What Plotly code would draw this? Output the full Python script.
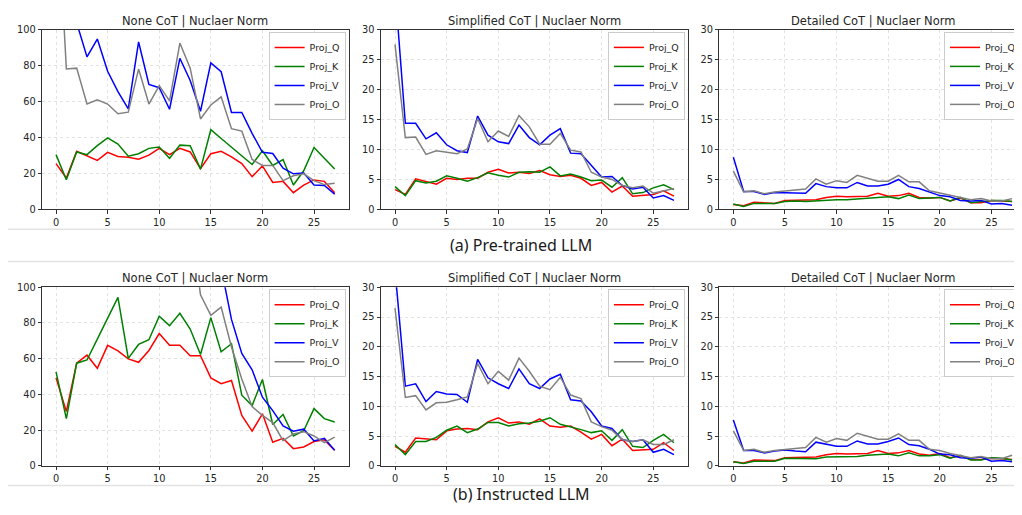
import plotly.graph_objects as go

layers = list(range(28))
series_names = ["Proj_Q", "Proj_K", "Proj_V", "Proj_O"]
series_colors = ["#ff0000", "#008000", "#0000ff", "#808080"]
panel_titles = ["None CoT | Nuclaer Norm", "Simplified CoT | Nuclaer Norm", "Detailed CoT | Nuclaer Norm"]
captions = ["(a) Pre-trained LLM", "(b) Instructed LLM"]

# ---- (a) Pre-trained LLM ----
pt_none_q = [25.5, 17.5, 32.4, 30, 27.3, 31.8, 29.5, 29, 28, 30.2, 34, 30.5, 34, 32, 22.7, 31, 32.4, 29.3, 25.5, 18.2, 24.2, 15, 15.6, 9.3, 13.5, 16.4, 15.6, 9.3]
pt_none_k = [30.5, 16.5, 32, 30.5, 35.5, 39.8, 36.4, 29.6, 31, 34, 34.7, 28.5, 35.8, 35.5, 22.4, 44.4, 39.5, 34.7, 30, 25, 32.7, 24.5, 27.8, 13.6, 21.5, 34.5, 28.5, 22.5]
pt_none_v = [300, 180, 104, 85, 94.9, 77, 65.6, 56, 93.3, 69.6, 67.8, 55.8, 84.2, 71.8, 54.7, 81.6, 76.7, 54, 54, 42.4, 31.8, 31.1, 22.9, 19.8, 20.2, 13.6, 13.3, 8.5]
pt_none_o = [185, 78.2, 78.7, 58.7, 61, 58.7, 53.3, 54.2, 78.2, 58.7, 69, 60.5, 92.7, 78.7, 50.4, 58.2, 62.7, 45, 43.6, 27.8, 24.5, 24.5, 16, 18.7, 19.8, 16, 13.8, 14.5]

pt_simp_q = [3.3, 2.5, 5.1, 4.6, 4.2, 5.2, 5.0, 5.2, 5.2, 6.2, 6.7, 6.1, 6.2, 6.0, 6.5, 5.8, 5.5, 5.7, 5.2, 4.0, 4.5, 2.9, 3.9, 2.2, 2.4, 2.5, 3.1, 2.2]
pt_simp_k = [3.8, 2.3, 4.8, 4.4, 4.7, 5.6, 5.2, 4.7, 5.3, 6.1, 5.7, 5.4, 6.2, 6.3, 6.2, 7.1, 5.6, 5.9, 5.4, 4.8, 4.9, 3.7, 5.3, 2.6, 2.8, 3.6, 4.1, 3.3]
pt_simp_v = [37, 14.4, 14.4, 11.8, 12.8, 10.8, 9.8, 9.5, 15.6, 12.4, 11.3, 11.0, 14.1, 12.0, 10.8, 12.4, 13.5, 9.4, 9.3, 7.4, 5.4, 5.5, 4.0, 3.4, 3.7, 1.9, 2.3, 1.5]
pt_simp_o = [27.6, 12.0, 12.1, 9.2, 9.8, 9.5, 9.3, 10.1, 15.2, 11.3, 13.1, 12.2, 15.7, 13.8, 10.9, 10.9, 12.7, 9.9, 9.6, 6.2, 5.4, 5.0, 4.0, 3.6, 3.9, 2.7, 3.1, 3.5]

pt_det_q = [0.8, 0.6, 1.2, 1.1, 1.0, 1.5, 1.5, 1.6, 1.6, 2.0, 2.2, 2.1, 2.2, 2.2, 2.7, 2.2, 2.3, 2.7, 2.0, 1.9, 2.0, 1.4, 1.9, 1.1, 1.1, 1.5, 1.4, 1.3]
pt_det_k = [0.9, 0.5, 1.0, 1.0, 1.0, 1.3, 1.4, 1.3, 1.4, 1.6, 1.6, 1.6, 1.7, 1.8, 2.0, 2.1, 1.8, 2.4, 1.8, 1.9, 2.0, 1.4, 2.0, 1.1, 1.3, 1.5, 1.5, 1.3]
pt_det_v = [8.7, 3.0, 3.0, 2.5, 2.8, 2.8, 2.8, 2.7, 4.3, 3.8, 3.6, 3.6, 4.5, 3.9, 3.9, 4.2, 5.0, 3.8, 3.5, 2.9, 2.3, 2.1, 1.5, 1.4, 1.5, 0.9, 1.0, 0.7]
pt_det_o = [6.4, 2.9, 3.1, 2.6, 2.9, 3.1, 3.2, 3.4, 5.1, 4.2, 4.8, 4.5, 5.7, 5.2, 4.7, 4.7, 5.7, 4.6, 4.6, 3.1, 2.7, 2.3, 2.0, 1.6, 1.8, 1.4, 1.4, 1.8]

# ---- (b) Instructed LLM ----
in_none_q = [49.3, 30.5, 57.5, 62, 54.7, 67.5, 64.4, 59.9, 58, 64.6, 74.1, 67.5, 67.5, 61.7, 61.7, 49.3, 46, 47.8, 28.3, 19.5, 29.2, 13.3, 15.5, 9.7, 10.6, 13.7, 14.6, 8.8]
in_none_k = [52.6, 26.5, 57.5, 59.3, 71, 83, 94.3, 60.2, 68, 70.6, 83.8, 78.5, 85.4, 76.6, 62.4, 83, 63.9, 68.4, 39.6, 33.8, 48.4, 23.2, 28.8, 16.8, 19.7, 32.1, 26.5, 24.6]
in_none_v = [420, 330, 350, 310, 290, 300, 280, 250, 260, 240, 230, 220, 210, 190, 170, 140, 110, 82, 63, 53.8, 38.5, 31, 22.4, 19.5, 20.6, 14, 15.5, 8.8]
in_none_o = [400, 300, 320, 290, 270, 280, 260, 240, 250, 230, 220, 210, 190, 138, 95.8, 84.3, 88.9, 66.6, 48.7, 33.2, 28.3, 24.3, 14.2, 17.9, 19.2, 16.8, 13.1, 16.1]

in_simp_q = [3.3, 2.3, 4.7, 4.5, 4.4, 5.9, 6.2, 6.3, 6.1, 7.4, 8.1, 7.2, 7.4, 7.0, 7.9, 6.7, 6.5, 6.7, 5.7, 4.5, 5.3, 3.4, 4.5, 2.6, 2.7, 2.8, 3.9, 2.6]
in_simp_k = [3.6, 1.9, 4.1, 4.1, 4.8, 6.0, 6.7, 5.6, 6.2, 7.3, 7.3, 6.7, 7.1, 7.2, 7.5, 8.1, 7.0, 6.6, 6.1, 5.6, 5.9, 4.3, 6.1, 3.3, 3.1, 4.3, 5.3, 3.9]
in_simp_v = [33, 13.4, 13.8, 10.8, 12.5, 12.1, 12.0, 10.7, 17.9, 14.8, 13.8, 13.0, 16.3, 13.8, 13.0, 14.6, 15.4, 11.1, 10.9, 9.1, 6.7, 6.3, 4.4, 4.1, 4.4, 2.3, 2.8, 1.9]
in_simp_o = [26.5, 11.5, 11.8, 9.4, 10.6, 10.7, 11.1, 11.6, 17.2, 13.8, 15.9, 14.4, 18.1, 15.9, 13.4, 12.8, 14.9, 11.9, 11.3, 7.4, 6.6, 6.0, 4.4, 4.1, 4.4, 3.6, 3.6, 4.4]

in_det_q = [0.7, 0.5, 1.0, 1.0, 0.9, 1.4, 1.4, 1.4, 1.5, 1.9, 2.1, 2.0, 2.0, 2.1, 2.6, 2.1, 2.2, 2.6, 2.0, 1.8, 2.1, 1.4, 1.7, 1.1, 1.1, 1.3, 1.2, 1.1]
in_det_k = [0.7, 0.4, 0.8, 0.8, 0.8, 1.3, 1.3, 1.2, 1.2, 1.5, 1.5, 1.5, 1.6, 1.8, 1.9, 2.0, 1.7, 2.2, 1.7, 1.7, 1.9, 1.3, 1.8, 1.0, 1.0, 1.4, 1.3, 1.0]
in_det_v = [7.7, 2.6, 2.6, 2.2, 2.5, 2.7, 2.5, 2.4, 4.0, 3.6, 3.3, 3.3, 4.2, 3.7, 3.7, 4.1, 4.7, 3.6, 3.4, 2.8, 2.0, 1.9, 1.4, 1.3, 1.5, 0.8, 0.9, 0.7]
in_det_o = [5.9, 2.6, 2.8, 2.3, 2.6, 2.8, 3.0, 3.1, 4.8, 4.0, 4.6, 4.3, 5.5, 5.0, 4.5, 4.5, 5.4, 4.3, 4.3, 2.8, 2.6, 2.1, 1.8, 1.4, 1.6, 1.2, 1.2, 1.8]

panels = [
    [pt_none_q, pt_none_k, pt_none_v, pt_none_o],
    [pt_simp_q, pt_simp_k, pt_simp_v, pt_simp_o],
    [pt_det_q, pt_det_k, pt_det_v, pt_det_o],
    [in_none_q, in_none_k, in_none_v, in_none_o],
    [in_simp_q, in_simp_k, in_simp_v, in_simp_o],
    [in_det_q, in_det_k, in_det_v, in_det_o],
]
y_max = [100, 30, 30, 100, 30, 30]
y_dtick = [20, 5, 5, 20, 5, 5]

# page body has an 8px margin: work in screen pixels, convert to figure paper coords
OFF = 8
SCR_W, SCR_H = 1022, 515
W, H = SCR_W - OFF, SCR_H - OFF


def px(xs):
    return max(0.0, min(1.0, (xs - OFF) / W))


def py(ys):
    return max(0.0, min(1.0, 1 - (ys - OFF) / H))


col_px = [(42.1, 348.6), (381.05, 687.9), (719.4, 1026.0)]
row_px = [(24.3, 207.7), (287.3, 470.0)]
x_range_full = (-1.35, 28.35)

fig = go.Figure()
font_mpl = "DejaVu Sans"
axis_col = "#333333"

for p in range(6):
    r, c = divmod(p, 3)
    idx = p + 1
    xa = "x" if idx == 1 else f"x{idx}"
    ya = "y" if idx == 1 else f"y{idx}"
    lg = "legend" if idx == 1 else f"legend{idx}"
    for s in range(4):
        fig.add_trace(go.Scatter(
            x=layers, y=panels[p][s], mode="lines", name=series_names[s],
            line=dict(color=series_colors[s], width=1.5),
            xaxis=xa, yaxis=ya, legend=lg, showlegend=True,
        ))
    x0p, x1p = col_px[c]
    y0p, y1p = row_px[r]
    xr = list(x_range_full)
    clipped = x1p > SCR_W
    x1_vis = min(x1p, SCR_W)
    if clipped:
        xr[1] = x_range_full[0] + (x_range_full[1] - x_range_full[0]) * (SCR_W - x0p) / (x1p - x0p)
    xkey = "xaxis" if idx == 1 else f"xaxis{idx}"
    ykey = "yaxis" if idx == 1 else f"yaxis{idx}"
    fig.layout[xkey] = dict(
        domain=[px(x0p), px(x1_vis)], range=xr, anchor=ya,
        tickmode="linear", tick0=0, dtick=5,
        showgrid=True, gridcolor="#e2e2e2", griddash="dot", gridwidth=1,
        zeroline=False, showline=True, linecolor=axis_col, linewidth=1, mirror=True,
        ticks="outside", ticklen=3.5, tickcolor=axis_col,
        tickfont=dict(family=font_mpl, size=9.8, color="#262626"),
    )
    fig.layout[ykey] = dict(
        domain=[py(y1p), py(y0p)], range=[0, y_max[p]], anchor=xa,
        tickmode="linear", tick0=0, dtick=y_dtick[p],
        showgrid=True, gridcolor="#e2e2e2", griddash="dot", gridwidth=1,
        zeroline=False, showline=True, linecolor=axis_col, linewidth=1,
        mirror=not clipped,
        ticks="outside", ticklen=3.5, tickcolor=axis_col,
        tickfont=dict(family=font_mpl, size=9.8, color="#262626"),
    )
    fig.layout[lg] = dict(
        x=px(min(x1p - 3, SCR_W - 1)), y=py(y0p + 2), xanchor="right", yanchor="top",
        xref="paper", yref="paper",
        bgcolor="rgba(255,255,255,0.85)", bordercolor="#cccccc", borderwidth=1,
        font=dict(family=font_mpl, size=9.5, color="#262626"),
        itemwidth=30, tracegroupgap=0,
    )
    fig.add_annotation(
        text=panel_titles[c], xref="paper", yref="paper",
        x=((x0p + x1p) / 2 - OFF) / W, y=py(y0p - 9.5),
        xanchor="center", yanchor="middle", showarrow=False,
        font=dict(family=font_mpl, size=11.5, color="#262626"),
    )

# separators and captions
for yp in [228, 261, 490]:
    fig.add_shape(type="line", xref="paper", yref="paper",
                  x0=px(5), x1=px(1017), y0=py(yp), y1=py(yp),
                  line=dict(color="#e3e3e3", width=1.5))
for cap, yp in zip(captions, [244, 499]):
    fig.add_annotation(text=cap, xref="paper", yref="paper", x=px(521), y=py(yp),
                       xanchor="center", yanchor="middle", showarrow=False,
                       font=dict(family="Noto Sans", size=16, color="#1a1a1a"))

fig.update_layout(
    width=W, height=H, margin=dict(l=0, r=0, t=0, b=0),
    paper_bgcolor="white", plot_bgcolor="white",
)
fig.write_html("out.html")
